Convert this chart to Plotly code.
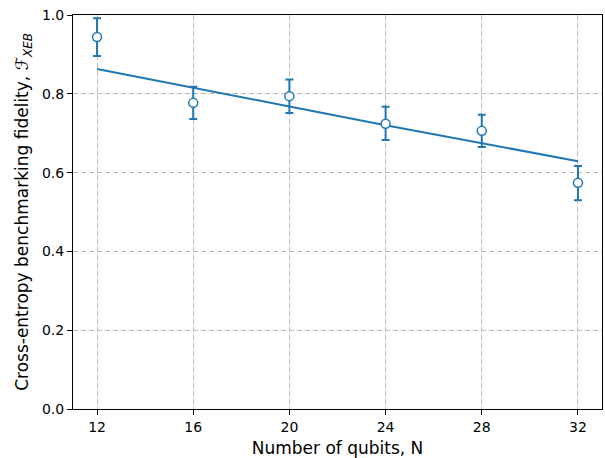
import plotly.graph_objects as go

qubits = [12, 16, 20, 24, 28, 32]
fidelity = [0.944, 0.777, 0.794, 0.724, 0.706, 0.574]
err_up = [0.048, 0.041, 0.042, 0.043, 0.041, 0.043]
err_down = [0.048, 0.041, 0.043, 0.041, 0.041, 0.044]
fit_y = [0.863, 0.816, 0.768, 0.720, 0.674, 0.629]

blue = "#1f77b4"
fig = go.Figure()
fig.add_trace(go.Scatter(x=qubits, y=fit_y, mode="lines",
                         line=dict(color=blue, width=2), showlegend=False))
fig.add_trace(go.Scatter(
    x=qubits, y=fidelity, mode="markers",
    marker=dict(symbol="circle", size=9, color="white", line=dict(color=blue, width=1.5)),
    error_y=dict(type="data", symmetric=False, array=err_up, arrayminus=err_down,
                 color=blue, thickness=2, width=4),
    showlegend=False))

axis_common = dict(
    showline=True, linecolor="black", linewidth=1, mirror=True,
    ticks="outside", ticklen=5, tickcolor="black",
    showgrid=True, gridcolor="#b8b8b8", griddash="5px,3px", gridwidth=1,
    zeroline=False, tickfont=dict(size=14, color="black"),
)
fig.update_xaxes(range=[11, 33], tickvals=[12, 16, 20, 24, 28, 32],
                 title=dict(text="Number of qubits, N", font=dict(size=17, color="black"), standoff=8),
                 **axis_common)
fig.update_yaxes(range=[0, 1], tickvals=[0, 0.2, 0.4, 0.6, 0.8, 1.0],
                 tickformat=".1f",
                 title=dict(text="Cross-entropy benchmarking fidelity, <i>ℱ</i><sub><i>XEB</i></sub>",
                            font=dict(size=17, color="black"), standoff=8),
                 **axis_common)
fig.update_layout(
    width=605, height=458,
    margin=dict(l=73, r=3, t=15, b=49),
    plot_bgcolor="white", paper_bgcolor="white",
    font=dict(family="DejaVu Sans", color="black"),
)
fig.write_html("out.html")
